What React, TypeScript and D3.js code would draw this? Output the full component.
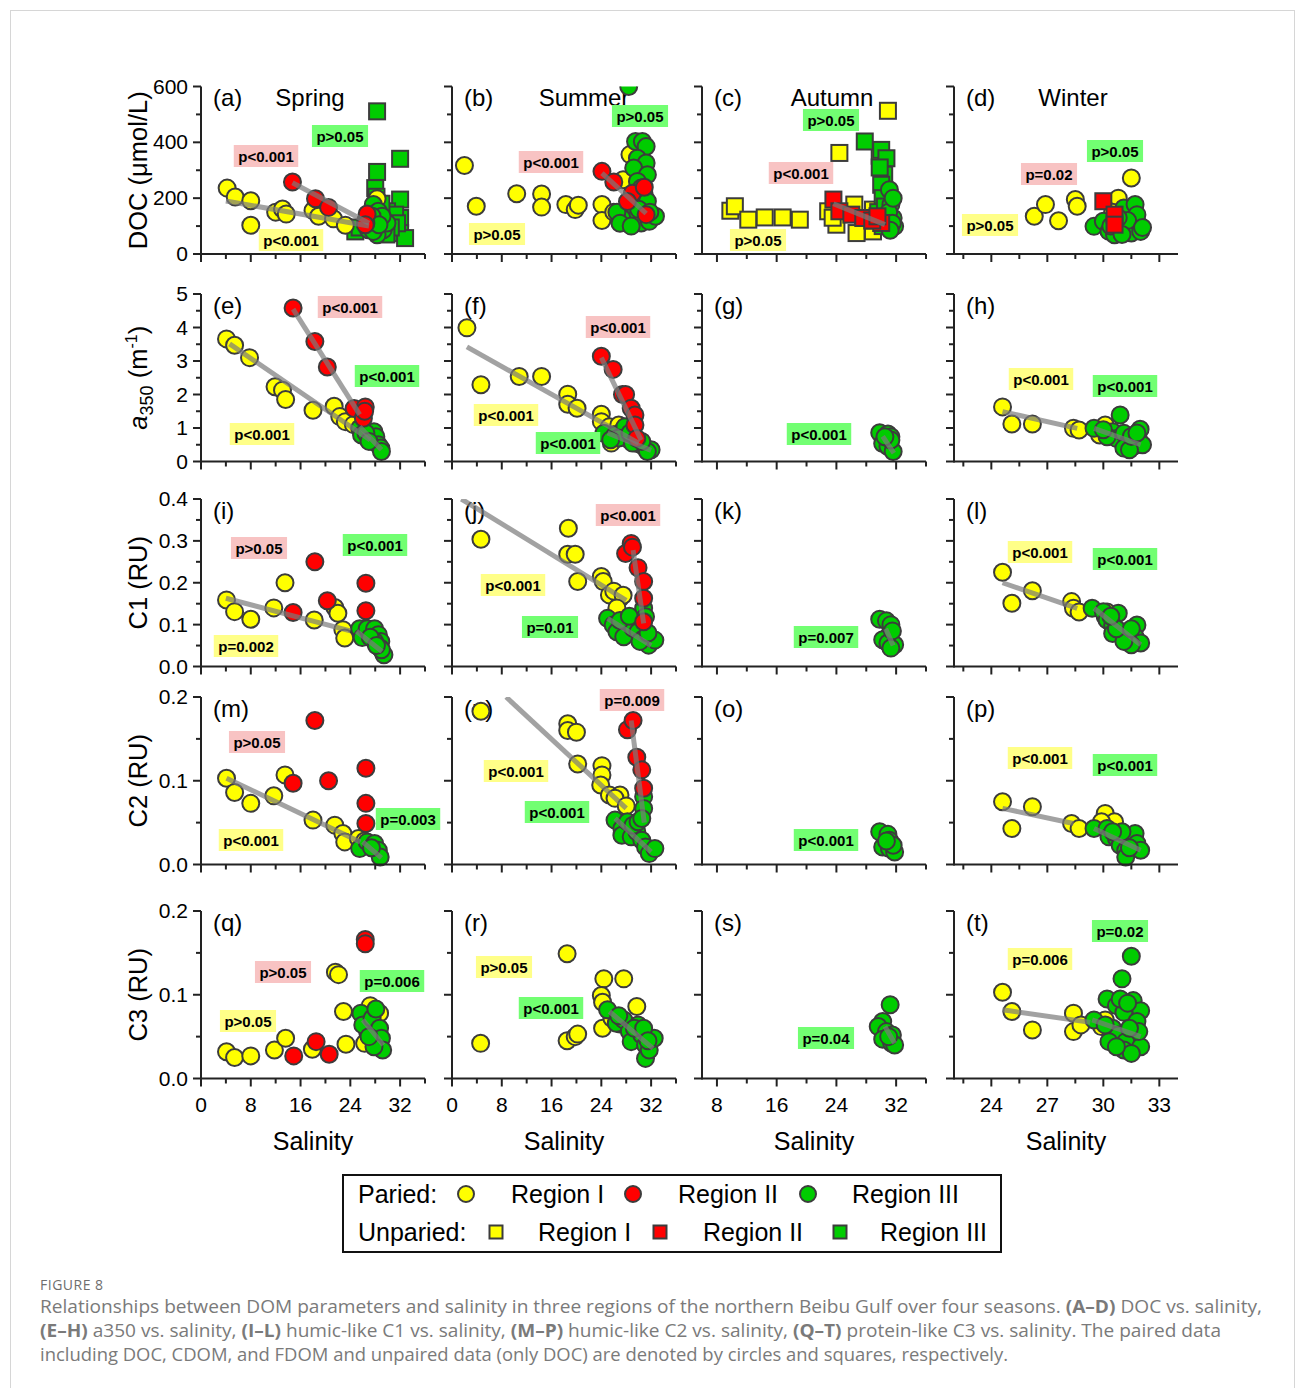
import * as d3 from 'd3';

type Pt = [number, number];

// ---- data, [salinity, value] pairs ----
// suffix: I / II / III = region, u = unpaired (squares), fit = regression end points

// (a) spring DOC
const a_I: Pt[] = [[4.2,236],[5.5,204],[8.0,191],[8.0,103],[12.0,150],[13.1,161],[13.7,143],[18.0,156],[18.9,135],[21.3,126],[23.2,103],[28.3,198],[27.5,150],[26.5,120]];
const a_II: Pt[] = [[14.7,258],[18.4,198],[20.5,167],[26.7,143],[26.4,105]];
const a_III: Pt[] = [[27.7,177],[28.5,153],[27.2,117],[28.0,99],[28.8,117],[29.3,87],[28.3,69],[26.9,87],[27.7,81],[29.9,111],[29.1,135],[27.5,135],[28.6,105],[26.5,110]];
const a_uIII: Pt[] = [[28.3,511],[28.3,294],[32.0,341],[28.0,236],[28.2,205],[32.0,195],[32.0,129],[32.0,75],[32.8,57],[29.9,153],[31.2,141],[29.0,180],[31.5,110],[30.5,95],[29.8,70],[24.8,81],[25.5,95]];
const a_fitI: Pt[] = [[4,190],[27,100]];
const a_fitII: Pt[] = [[14.7,255],[27,110]];

// (b) summer DOC
const b_I: Pt[] = [[2.0,317],[3.9,171],[10.4,216],[14.4,215],[14.4,168],[18.3,177],[19.8,159],[20.3,175],[24.1,177],[24.1,120],[27.5,266],[28.6,356],[26.0,150]];
const b_II: Pt[] = [[24.1,296],[26.0,258],[29.0,218],[28.2,188],[30.9,239],[31.2,141]];
const b_III: Pt[] = [[29.5,403],[30.6,403],[31.2,385],[29.8,343],[31.2,326],[29.2,308],[31.4,284],[29.8,260],[30.4,236],[30.9,212],[31.4,189],[28.2,141],[29.2,123],[27.3,129],[30.4,111],[31.7,117],[32.7,135],[26.5,150],[27.0,110],[28.8,100],[30.0,160],[31.8,150],[28.4,600]];
const b_fitII: Pt[] = [[24.1,290],[31.2,145]];

// (c) autumn DOC
const c_uI: Pt[] = [[9.8,155],[10.4,171],[12.2,123],[14.4,131],[16.8,131],[19.1,123],[24.4,362],[30.9,513],[29.8,352],[22.9,153],[24.0,105],[26.4,177],[28.9,159],[27.6,93],[26.7,75],[28.9,81],[23.5,130]];
const c_uII: Pt[] = [[23.6,195],[24.4,153],[26.0,141],[27.6,129],[30.0,111],[28.8,120],[29.5,135]];
const c_uIII: Pt[] = [[27.8,403],[30.0,373],[30.7,343],[30.4,284],[30.0,248],[29.8,310],[30.2,200],[29.6,150],[30.5,170],[29.0,120],[30.2,100]];
const c_III: Pt[] = [[31.1,230],[31.3,177],[31.6,129],[31.8,99],[31.0,150],[31.5,110],[31.2,85],[31.6,200]];
const c_fitII: Pt[] = [[23.6,180],[30.5,105]];

// (d) winter DOC
const d_I: Pt[] = [[26.3,135],[26.9,177],[27.6,119],[28.5,195],[28.6,171],[31.5,272],[30.8,200],[30.1,117],[30.5,150]];
const d_uII: Pt[] = [[30.0,189],[30.6,141],[30.6,105]];
const d_III: Pt[] = [[29.5,99],[30.0,117],[30.3,81],[31.1,165],[31.7,177],[31.9,105],[31.1,81],[31.5,75],[32.0,81],[30.6,69],[30.9,105],[31.8,141],[30.4,100],[31.3,120],[30.8,130],[32.1,95],[31.0,70]];

// (e) spring a350
const e_I: Pt[] = [[4.1,3.66],[5.4,3.47],[7.8,3.1],[11.9,2.23],[13.1,2.13],[13.6,1.85],[18.0,1.53],[21.4,1.65],[22.3,1.34],[23.2,1.19],[24.5,1.1],[26.0,0.95]];
const e_II: Pt[] = [[14.8,4.58],[18.3,3.58],[20.3,2.82],[24.6,1.58],[26.4,1.63],[26.1,1.29],[26.3,1.5]];
const e_III: Pt[] = [[25.5,0.99],[25.8,0.79],[27.2,0.74],[27.8,0.89],[27.8,0.59],[28.1,0.74],[28.5,0.5],[28.9,0.4],[29.0,0.3],[26.5,0.85],[27.0,0.6]];
const e_fitI: Pt[] = [[4.6,3.51],[27.2,0.64]];
const e_fitII: Pt[] = [[14.8,4.55],[25.5,1.4]];
const e_fitIII: Pt[] = [[25.5,1.04],[29,0.35]];

// (f) summer a350
const f_I: Pt[] = [[2.4,3.99],[4.65,2.29],[10.8,2.54],[14.4,2.54],[18.6,2.01],[18.6,1.71],[20.1,1.59],[24.0,1.41],[24.0,1.19],[25.3,1.04],[25.6,0.55],[26.8,1.09],[27.5,0.95],[26.0,0.8]];
const f_II: Pt[] = [[24.0,3.14],[25.9,2.75],[27.4,2.0],[27.9,2.0],[28.8,1.59],[29.4,1.39],[29.4,1.09],[29.7,0.69]];
const f_III: Pt[] = [[24.4,0.84],[26.2,0.79],[27.6,0.74],[28.5,0.64],[29.7,0.54],[30.8,0.45],[32.0,0.35],[27.8,1.04],[26.8,0.7],[29.0,0.55],[31.4,0.3],[28.6,0.85],[30.5,0.6],[25.5,0.65]];
const f_fitI: Pt[] = [[2.4,3.42],[30,0.55]];
const f_fitII: Pt[] = [[24,3.1],[30.4,0.64]];
const f_fitIII: Pt[] = [[25,0.85],[32,0.33]];

// (g) autumn a350
const g_III: Pt[] = [[29.8,0.86],[30.9,0.82],[31.3,0.74],[30.2,0.54],[31.1,0.54],[30.9,0.45],[31.6,0.3],[31.3,0.64],[30.5,0.74]];
const g_fitIII: Pt[] = [[30.2,0.75],[31.7,0.25]];

// (h) winter a350
const h_I: Pt[] = [[24.6,1.63],[25.1,1.12],[26.2,1.12],[28.4,0.99],[28.7,0.94],[30.1,1.09],[29.8,0.79]];
const h_III: Pt[] = [[29.5,0.99],[30.9,1.39],[31.97,0.96],[30.5,0.89],[30.7,0.69],[31.1,0.84],[31.3,0.54],[31.6,0.45],[31.9,0.64],[32.1,0.5],[31.1,0.4],[31.4,0.35],[30.2,0.74],[30.0,0.95],[31.5,0.75],[31.8,0.85]];
const h_fitI: Pt[] = [[24.6,1.49],[28.6,0.99]];
const h_fitIII: Pt[] = [[29.5,0.99],[32,0.5]];

// (i) spring C1
const i_I: Pt[] = [[4.1,0.159],[5.4,0.131],[8.0,0.113],[11.7,0.14],[13.5,0.2],[18.2,0.111],[21.5,0.141],[22.0,0.127],[22.8,0.088],[23.1,0.068]];
const i_II: Pt[] = [[18.3,0.25],[14.8,0.129],[20.3,0.157],[26.5,0.199],[26.5,0.133]];
const i_III: Pt[] = [[25.5,0.09],[25.9,0.069],[26.7,0.09],[27.9,0.09],[28.5,0.076],[28.9,0.06],[28.8,0.044],[29.4,0.028],[27.9,0.06],[27.2,0.07],[29.0,0.04],[28.2,0.05]];
const i_fitI: Pt[] = [[4,0.163],[24,0.085]];
const i_fitIII: Pt[] = [[25,0.084],[29.1,0.036]];

// (j) summer C1
const j_I: Pt[] = [[4.65,0.304],[18.7,0.33],[18.6,0.268],[19.8,0.268],[20.2,0.203],[24.0,0.215],[24.3,0.203],[25.3,0.171],[27.0,0.163],[26.0,0.18],[27.5,0.17],[26.5,0.14]];
const j_II: Pt[] = [[28.8,0.294],[27.9,0.27],[29.9,0.236],[30.8,0.203],[30.8,0.163],[30.8,0.107],[29.0,0.285]];
const j_III: Pt[] = [[25.0,0.115],[25.9,0.099],[26.5,0.083],[27.6,0.071],[28.2,0.107],[29.1,0.091],[29.9,0.083],[30.8,0.067],[31.6,0.051],[32.6,0.063],[30.8,0.139],[31.1,0.119],[27.0,0.11],[30.2,0.06],[28.5,0.12],[31.5,0.08]];
const j_fitI: Pt[] = [[1.5,0.4],[28,0.158]];
const j_fitII: Pt[] = [[29.1,0.278],[30.8,0.103]];
const j_fitIII: Pt[] = [[25,0.115],[32,0.05]];

// (k) autumn C1
const k_III: Pt[] = [[29.8,0.113],[30.7,0.109],[31.3,0.1],[31.1,0.076],[30.2,0.064],[30.9,0.056],[31.8,0.052],[31.3,0.044],[31.5,0.085]];
const k_fitIII: Pt[] = [[30.6,0.09],[31.6,0.05]];

// (l) winter C1
const l_I: Pt[] = [[24.6,0.225],[25.1,0.151],[26.2,0.181],[28.3,0.155],[28.4,0.139],[28.7,0.13],[30.1,0.119],[30.2,0.13]];
const l_III: Pt[] = [[29.4,0.139],[30.0,0.131],[30.8,0.127],[30.2,0.111],[30.5,0.099],[30.5,0.079],[31.0,0.083],[31.3,0.067],[31.8,0.099],[31.7,0.071],[32.0,0.056],[31.5,0.052],[31.1,0.06],[30.7,0.09],[31.5,0.09],[30.4,0.12]];
const l_fitI: Pt[] = [[24.6,0.2],[28.6,0.139]];
const l_fitIII: Pt[] = [[29.5,0.139],[32,0.052]];

// (m) spring C2
const m_I: Pt[] = [[4.1,0.103],[5.4,0.086],[8.0,0.073],[11.7,0.082],[13.5,0.107],[18.0,0.053],[21.5,0.047],[22.8,0.037],[23.1,0.027],[25.3,0.031],[26.3,0.028]];
const m_II: Pt[] = [[18.3,0.172],[14.8,0.097],[20.5,0.1],[26.5,0.115],[26.5,0.073],[26.5,0.049]];
const m_III: Pt[] = [[25.5,0.019],[26.7,0.027],[27.9,0.025],[28.5,0.017],[28.8,0.009],[27.4,0.02]];
const m_fitI: Pt[] = [[4.1,0.103],[25.6,0.027]];
const m_fitIII: Pt[] = [[26,0.027],[29,0.008]];

// (n) summer C2
const n_I: Pt[] = [[4.65,0.183],[18.6,0.168],[18.6,0.16],[20.0,0.158],[20.2,0.12],[24.1,0.118],[24.1,0.107],[23.9,0.095],[25.3,0.083],[27.0,0.083],[26.2,0.079],[28.0,0.07]];
const n_II: Pt[] = [[28.2,0.161],[29.1,0.172],[29.7,0.128],[30.5,0.113],[30.8,0.091]];
const n_III: Pt[] = [[30.8,0.081],[30.8,0.067],[26.2,0.053],[27.3,0.043],[27.3,0.035],[28.8,0.033],[29.7,0.039],[30.5,0.029],[31.1,0.021],[31.7,0.013],[32.6,0.019],[28.2,0.051],[29.1,0.047],[29.9,0.051],[30.5,0.055]];
const n_fitI: Pt[] = [[8.7,0.2],[28,0.067]];
const n_fitII: Pt[] = [[28.8,0.172],[30.9,0.05]];
const n_fitIII: Pt[] = [[26.2,0.055],[32,0.015]];

// (o) autumn C2
const o_III: Pt[] = [[29.8,0.039],[30.9,0.036],[31.1,0.029],[30.2,0.021],[31.1,0.019],[31.8,0.015],[31.6,0.023],[30.7,0.028]];

// (p) winter C2
const p_I: Pt[] = [[24.6,0.075],[25.1,0.043],[26.2,0.069],[28.3,0.049],[28.7,0.043],[30.1,0.061],[30.6,0.051],[29.9,0.051]];
const p_III: Pt[] = [[29.5,0.043],[30.2,0.043],[30.3,0.033],[30.7,0.031],[30.9,0.023],[31.2,0.017],[31.2,0.009],[31.5,0.029],[31.7,0.037],[31.8,0.025],[32.0,0.017],[31.0,0.039],[30.5,0.039],[31.4,0.02]];
const p_fitI: Pt[] = [[24.6,0.067],[28.4,0.049]];
const p_fitIII: Pt[] = [[29.5,0.043],[32,0.017]];

// (q) spring C3
const q_I: Pt[] = [[4.1,0.032],[5.4,0.025],[8.0,0.027],[11.8,0.034],[13.6,0.048],[17.9,0.035],[21.6,0.127],[22.1,0.124],[22.9,0.08],[23.3,0.041],[26.3,0.042],[27.2,0.087],[28.7,0.078],[26.8,0.055]];
const q_II: Pt[] = [[26.4,0.166],[26.4,0.161],[14.9,0.027],[18.5,0.044],[20.6,0.029]];
const q_III: Pt[] = [[25.7,0.078],[26.0,0.064],[27.5,0.072],[28.1,0.083],[28.7,0.06],[28.1,0.046],[29.0,0.048],[29.2,0.034],[27.8,0.038],[27.0,0.05]];
const q_fitIII: Pt[] = [[26,0.07],[29.3,0.04]];

// (r) summer C3
const r_I: Pt[] = [[4.6,0.042],[18.5,0.149],[18.5,0.045],[19.8,0.05],[20.2,0.053],[24.4,0.119],[27.6,0.119],[24.0,0.099],[24.2,0.091],[24.2,0.06],[29.7,0.086],[25.7,0.072],[27.0,0.065]];
const r_III: Pt[] = [[25.0,0.082],[26.4,0.066],[27.6,0.07],[28.5,0.056],[28.8,0.044],[29.9,0.064],[30.5,0.052],[31.1,0.04],[31.1,0.024],[31.7,0.034],[32.5,0.048],[29.3,0.06],[26.8,0.075],[30.8,0.06],[31.5,0.045]];
const r_fitIII: Pt[] = [[25.3,0.08],[32.3,0.036]];

// (s) autumn C3
const s_III: Pt[] = [[31.2,0.088],[30.2,0.068],[29.6,0.062],[30.7,0.056],[31.5,0.052],[30.2,0.047],[31.4,0.042],[31.8,0.04],[31.0,0.05]];
const s_fitIII: Pt[] = [[30.5,0.062],[31.8,0.042]];

// (t) winter C3
const t_I: Pt[] = [[24.6,0.103],[25.1,0.08],[26.2,0.058],[28.4,0.078],[28.4,0.056],[28.8,0.064],[29.9,0.062],[30.1,0.07]];
const t_III: Pt[] = [[31.5,0.146],[31.0,0.119],[30.2,0.095],[29.5,0.07],[30.7,0.087],[31.6,0.093],[32.0,0.081],[31.1,0.079],[31.8,0.068],[30.5,0.06],[30.8,0.052],[30.3,0.044],[31.2,0.044],[32.0,0.038],[31.1,0.034],[31.5,0.03],[30.7,0.038],[31.9,0.056],[30.1,0.064],[31.4,0.06],[30.9,0.095],[31.3,0.09]];
const t_fitI: Pt[] = [[24.6,0.082],[29.3,0.067]];
const t_fitIII: Pt[] = [[29.4,0.07],[32,0.05]];

// axes
const seasons = ['Spring', 'Summer', 'Autumn', 'Winter'];
const xDomains: Pt[] = [[0, 36], [0, 36], [6, 36], [22, 34]];
const xMajor = [[0, 8, 16, 24, 32], [0, 8, 16, 24, 32], [8, 16, 24, 32], [24, 27, 30, 33]];
const xMinor = [[4, 12, 20, 28, 36], [4, 12, 20, 28, 36], [12, 20, 28, 36], [22.5, 25.5, 28.5, 31.5]];
const yDomains: Pt[] = [[0, 600], [0, 5], [0, 0.4], [0, 0.2], [0, 0.2]];
const yMajor = [[0, 200, 400, 600], [0, 1, 2, 3, 4, 5], [0, 0.1, 0.2, 0.3, 0.4], [0, 0.1, 0.2], [0, 0.1, 0.2]];
const yMinor = [[100, 300, 500], [0.5, 1.5, 2.5, 3.5, 4.5], [0.05, 0.15, 0.25, 0.35], [0.05, 0.15], [0.05, 0.15]];
const yFmt = [(v: number) => String(v), (v: number) => String(v), (v: number) => v.toFixed(1), (v: number) => v.toFixed(1), (v: number) => v.toFixed(1)];

type Series = { r: string; sq?: boolean; d: Pt[] };
type Fit = { r: string; d: Pt[] };
type Note = [string, string, number, number];
type PanelSpec = { id: string; row: number; col: number; series: Series[]; fits: Fit[]; notes: Note[] };

const panels: PanelSpec[] = [
  { id: 'a', row: 0, col: 0,
    series: [{ r: 'I', d: a_I }, { r: 'II', d: a_II }, { r: 'III', d: a_III }, { r: 'III', sq: true, d: a_uIII }],
    fits: [{ r: 'I', d: a_fitI }, { r: 'II', d: a_fitII }],
    notes: [['p<0.001', 'II', 266, 156], ['p>0.05', 'III', 340, 136], ['p<0.001', 'I', 291, 240]] },
  { id: 'b', row: 0, col: 1,
    series: [{ r: 'I', d: b_I }, { r: 'II', d: b_II }, { r: 'III', d: b_III }],
    fits: [{ r: 'II', d: b_fitII }],
    notes: [['p<0.001', 'II', 551, 162], ['p>0.05', 'III', 640, 116], ['p>0.05', 'I', 497, 234]] },
  { id: 'c', row: 0, col: 2,
    series: [{ r: 'I', sq: true, d: c_uI }, { r: 'II', sq: true, d: c_uII }, { r: 'III', sq: true, d: c_uIII }, { r: 'III', d: c_III }],
    fits: [{ r: 'II', d: c_fitII }],
    notes: [['p<0.001', 'II', 801, 173], ['p>0.05', 'III', 831, 120], ['p>0.05', 'I', 758, 240]] },
  { id: 'd', row: 0, col: 3,
    series: [{ r: 'I', d: d_I }, { r: 'II', sq: true, d: d_uII }, { r: 'III', d: d_III }],
    fits: [],
    notes: [['p=0.02', 'II', 1049, 174], ['p>0.05', 'III', 1115, 151], ['p>0.05', 'I', 990, 225]] },
  { id: 'e', row: 1, col: 0,
    series: [{ r: 'I', d: e_I }, { r: 'II', d: e_II }, { r: 'III', d: e_III }],
    fits: [{ r: 'I', d: e_fitI }, { r: 'II', d: e_fitII }, { r: 'III', d: e_fitIII }],
    notes: [['p<0.001', 'II', 350, 307], ['p<0.001', 'III', 387, 376], ['p<0.001', 'I', 262, 434]] },
  { id: 'f', row: 1, col: 1,
    series: [{ r: 'I', d: f_I }, { r: 'II', d: f_II }, { r: 'III', d: f_III }],
    fits: [{ r: 'I', d: f_fitI }, { r: 'II', d: f_fitII }, { r: 'III', d: f_fitIII }],
    notes: [['p<0.001', 'II', 618, 327], ['p<0.001', 'I', 506, 415], ['p<0.001', 'III', 568, 443]] },
  { id: 'g', row: 1, col: 2,
    series: [{ r: 'III', d: g_III }],
    fits: [{ r: 'III', d: g_fitIII }],
    notes: [['p<0.001', 'III', 819, 434]] },
  { id: 'h', row: 1, col: 3,
    series: [{ r: 'I', d: h_I }, { r: 'III', d: h_III }],
    fits: [{ r: 'I', d: h_fitI }, { r: 'III', d: h_fitIII }],
    notes: [['p<0.001', 'I', 1041, 379], ['p<0.001', 'III', 1125, 386]] },
  { id: 'i', row: 2, col: 0,
    series: [{ r: 'I', d: i_I }, { r: 'II', d: i_II }, { r: 'III', d: i_III }],
    fits: [{ r: 'I', d: i_fitI }, { r: 'III', d: i_fitIII }],
    notes: [['p>0.05', 'II', 259, 548], ['p<0.001', 'III', 375, 545], ['p=0.002', 'I', 246, 646]] },
  { id: 'j', row: 2, col: 1,
    series: [{ r: 'I', d: j_I }, { r: 'II', d: j_II }, { r: 'III', d: j_III }],
    fits: [{ r: 'I', d: j_fitI }, { r: 'II', d: j_fitII }, { r: 'III', d: j_fitIII }],
    notes: [['p<0.001', 'II', 628, 515], ['p<0.001', 'I', 513, 585], ['p=0.01', 'III', 550, 627]] },
  { id: 'k', row: 2, col: 2,
    series: [{ r: 'III', d: k_III }],
    fits: [{ r: 'III', d: k_fitIII }],
    notes: [['p=0.007', 'III', 826, 637]] },
  { id: 'l', row: 2, col: 3,
    series: [{ r: 'I', d: l_I }, { r: 'III', d: l_III }],
    fits: [{ r: 'I', d: l_fitI }, { r: 'III', d: l_fitIII }],
    notes: [['p<0.001', 'I', 1040, 552], ['p<0.001', 'III', 1125, 559]] },
  { id: 'm', row: 3, col: 0,
    series: [{ r: 'I', d: m_I }, { r: 'II', d: m_II }, { r: 'III', d: m_III }],
    fits: [{ r: 'I', d: m_fitI }, { r: 'III', d: m_fitIII }],
    notes: [['p>0.05', 'II', 257, 742], ['p<0.001', 'I', 251, 840], ['p=0.003', 'III', 408, 819]] },
  { id: 'n', row: 3, col: 1,
    series: [{ r: 'I', d: n_I }, { r: 'II', d: n_II }, { r: 'III', d: n_III }],
    fits: [{ r: 'I', d: n_fitI }, { r: 'II', d: n_fitII }, { r: 'III', d: n_fitIII }],
    notes: [['p=0.009', 'II', 632, 700], ['p<0.001', 'I', 516, 771], ['p<0.001', 'III', 557, 812]] },
  { id: 'o', row: 3, col: 2,
    series: [{ r: 'III', d: o_III }],
    fits: [],
    notes: [['p<0.001', 'III', 826, 840]] },
  { id: 'p', row: 3, col: 3,
    series: [{ r: 'I', d: p_I }, { r: 'III', d: p_III }],
    fits: [{ r: 'I', d: p_fitI }, { r: 'III', d: p_fitIII }],
    notes: [['p<0.001', 'I', 1040, 758], ['p<0.001', 'III', 1125, 765]] },
  { id: 'q', row: 4, col: 0,
    series: [{ r: 'I', d: q_I }, { r: 'II', d: q_II }, { r: 'III', d: q_III }],
    fits: [{ r: 'III', d: q_fitIII }],
    notes: [['p>0.05', 'II', 283, 972], ['p=0.006', 'III', 392, 981], ['p>0.05', 'I', 248, 1021]] },
  { id: 'r', row: 4, col: 1,
    series: [{ r: 'I', d: r_I }, { r: 'III', d: r_III }],
    fits: [{ r: 'III', d: r_fitIII }],
    notes: [['p>0.05', 'I', 504, 967], ['p<0.001', 'III', 551, 1008]] },
  { id: 's', row: 4, col: 2,
    series: [{ r: 'III', d: s_III }],
    fits: [{ r: 'III', d: s_fitIII }],
    notes: [['p=0.04', 'III', 826, 1038]] },
  { id: 't', row: 4, col: 3,
    series: [{ r: 'I', d: t_I }, { r: 'III', d: t_III }],
    fits: [{ r: 'I', d: t_fitI }, { r: 'III', d: t_fitIII }],
    notes: [['p=0.006', 'I', 1040, 959], ['p=0.02', 'III', 1120, 931]] },
];

// layout
const W = 1295, H = 1388;
const colX = [201, 452, 702, 954];
const rowBottom = [254, 461.5, 666.5, 864.5, 1078.5];
const PW = 224, PH = 167.5;
const seasonDx = [109, 132, 130, 119];
const FONT = '"Liberation Sans", Arial, Helvetica, sans-serif';
const AXIS = '#222';
const FILL: Record<string, string> = { I: '#FFFF00', II: '#FF0000', III: '#00CC00' };
const NOTE_BG: Record<string, string> = { I: '#FFFF88', II: '#F8C3C3', III: '#72FF72' };
const R = 8.5, SQ = 16;

// bold Arial advance widths for the p-labels
const CW: Record<string, number> = { p: 0.611, '<': 0.584, '>': 0.584, '=': 0.584, '.': 0.278 };
const textW = (s: string, fs: number) => s.split('').reduce((w, ch) => w + (CW[ch] ?? 0.556), 0) * fs;

const order = (s: Series) => (s.sq ? ({ I: 0, III: 1, II: 5 } as any)[s.r] : ({ I: 2, III: 3, II: 4 } as any)[s.r]);

function Panel({ p }: { p: PanelSpec }) {
  const x0 = colX[p.col];
  const yb = rowBottom[p.row];
  const top = yb - PH;
  const x = d3.scaleLinear().domain(xDomains[p.col]).range([x0, x0 + PW]);
  const y = d3.scaleLinear().domain(yDomains[p.row]).range([yb, top]);
  const line = d3.line<Pt>().x(d => x(d[0])).y(d => y(d[1]));
  const ser = [...p.series].sort((a, b) => order(a) - order(b));
  const bottomRow = p.row === 4;
  return (
    <g>
      <clipPath id={'clip-' + p.id}>
        <rect x={x0 - 20} y={top} width={PW + 40} height={PH + 30} />
      </clipPath>
      <text x={x0 + 12} y={top + 19.5} fontSize={24} fontFamily={FONT}>({p.id})</text>
      {p.row === 0 && (
        <text x={x0 + seasonDx[p.col]} y={top + 19.5} fontSize={24} fontFamily={FONT} textAnchor="middle">{seasons[p.col]}</text>
      )}
      <g clipPath={`url(#clip-${p.id})`}>
        {ser.map((s, si) =>
          s.d.map((pt, k) =>
            s.sq ? (
              <rect key={si + '-' + k} x={x(pt[0]) - SQ / 2} y={y(pt[1]) - SQ / 2} width={SQ} height={SQ}
                fill={FILL[s.r]} stroke="#3c3c3c" strokeWidth={2} />
            ) : (
              <circle key={si + '-' + k} cx={x(pt[0])} cy={y(pt[1])} r={R} fill={FILL[s.r]} stroke="#3c3c3c" strokeWidth={2} />
            )
          )
        )}
        {p.fits.map((f, k) => (
          <path key={'f' + k} d={line(f.d) || ''} fill="none" stroke="#7a7a7a" strokeWidth={5} opacity={0.7} />
        ))}
      </g>
      {/* axes */}
      <line x1={x0} x2={x0 + PW} y1={yb} y2={yb} stroke={AXIS} strokeWidth={2} />
      <line x1={x0} x2={x0} y1={yb + 1} y2={top} stroke={AXIS} strokeWidth={2} />
      {yMajor[p.row].map(v => (
        <line key={'ym' + v} x1={x0 - 8} x2={x0} y1={y(v)} y2={y(v)} stroke={AXIS} strokeWidth={2} />
      ))}
      {yMinor[p.row].map(v => (
        <line key={'yn' + v} x1={x0 - 5} x2={x0} y1={y(v)} y2={y(v)} stroke={AXIS} strokeWidth={2} />
      ))}
      {xMajor[p.col].map(v => (
        <line key={'xm' + v} x1={x(v)} x2={x(v)} y1={yb} y2={yb + 8} stroke={AXIS} strokeWidth={2} />
      ))}
      {xMinor[p.col].map(v => (
        <line key={'xn' + v} x1={x(v)} x2={x(v)} y1={yb} y2={yb + 5} stroke={AXIS} strokeWidth={2} />
      ))}
      {p.col === 0 &&
        yMajor[p.row].map(v => (
          <text key={'yl' + v} x={x0 - 13} y={y(v) + 7} fontSize={21} fontFamily={FONT} textAnchor="end">{yFmt[p.row](v)}</text>
        ))}
      {bottomRow &&
        xMajor[p.col].map(v => (
          <text key={'xl' + v} x={x(v)} y={yb + 33} fontSize={21} fontFamily={FONT} textAnchor="middle">{v}</text>
        ))}
      {bottomRow && (
        <text x={x0 + PW / 2} y={yb + 71} fontSize={25} fontFamily={FONT} textAnchor="middle">Salinity</text>
      )}
      {/* p-value notes */}
      {p.notes.map(([t, r, cx, cy], k) => {
        const w = textW(t, 15) + 9;
        return (
          <g key={'n' + k}>
            <rect x={cx - w / 2} y={cy - 11} width={w} height={22} fill={NOTE_BG[r]} />
            <text x={cx} y={cy + 5.5} fontSize={15} fontWeight="bold" fontFamily={FONT} textAnchor="middle">{t}</text>
          </g>
        );
      })}
    </g>
  );
}

function YTitle({ row, children }: { row: number; children: any }) {
  const cy = rowBottom[row] - PH / 2;
  return (
    <text transform={`translate(147,${cy}) rotate(-90)`} fontSize={25.5} fontFamily={FONT} textAnchor="middle">{children}</text>
  );
}

const legendRows = [
  { label: 'Paried:', sq: false, items: [['I', 466, 511], ['II', 633, 678], ['III', 808, 852]] },
  { label: 'Unparied:', sq: true, items: [['I', 496, 538], ['II', 660, 703], ['III', 840, 880]] },
];

const CAP = '"Open Sans", sans-serif';

export default function App() {
  return (
    <svg width={W} height={H} style={{ position: 'absolute', left: 0, top: 0, background: '#fff' }}>
      <rect x={10.5} y={10.5} width={1284} height={1400} fill="#fff" stroke="#d6d6d6" strokeWidth={1} />
      {panels.map(p => <Panel key={p.id} p={p} />)}

      <YTitle row={0}>DOC (μmol/L)</YTitle>
      <YTitle row={1}>
        <tspan fontStyle="italic">a</tspan>
        <tspan fontSize={18} dy={6}>350</tspan>
        <tspan dy={-6}> (m</tspan>
        <tspan fontSize={16} dy={-10}>-1</tspan>
        <tspan dy={10}>)</tspan>
      </YTitle>
      <YTitle row={2}>C1 (RU)</YTitle>
      <YTitle row={3}>C2 (RU)</YTitle>
      <YTitle row={4}>C3 (RU)</YTitle>

      {/* legend */}
      <rect x={343} y={1175} width={658} height={77} fill="#fff" stroke="#111" strokeWidth={2} />
      {legendRows.map((lr, i) => {
        const cy = 1194 + i * 38;
        return (
          <g key={lr.label}>
            <text x={358} y={cy + 8.5} fontSize={25} fontFamily={FONT}>{lr.label}</text>
            {lr.items.map(([r, mx, tx]) => (
              <g key={r as string}>
                {lr.sq ? (
                  <rect x={(mx as number) - 6.5} y={cy - 6.5} width={13} height={13} fill={FILL[r as string]} stroke="#3c3c3c" strokeWidth={2} />
                ) : (
                  <circle cx={mx as number} cy={cy} r={8} fill={FILL[r as string]} stroke="#3c3c3c" strokeWidth={2} />
                )}
                <text x={tx as number} y={cy + 8.5} fontSize={25} fontFamily={FONT}>Region {r}</text>
              </g>
            ))}
          </g>
        );
      })}

      {/* caption */}
      <text x={40} y={1290} fontSize={14} fill="#6e6e6e" fontFamily={CAP} letterSpacing={0.5}>FIGURE 8</text>
      <g fontSize={18} fill="#7a7a7a" fontFamily={CAP}>
        <text x={40} y={1313} textLength={1222} lengthAdjust="spacingAndGlyphs">
          Relationships between DOM parameters and salinity in three regions of the northern Beibu Gulf over four seasons.{' '}
          <tspan fontWeight="bold">(A–D)</tspan> DOC vs. salinity,
        </text>
        <text x={40} y={1337} textLength={1181} lengthAdjust="spacingAndGlyphs">
          <tspan fontWeight="bold">(E–H)</tspan> a350 vs. salinity, <tspan fontWeight="bold">(I–L)</tspan> humic-like C1 vs. salinity,{' '}
          <tspan fontWeight="bold">(M–P)</tspan> humic-like C2 vs. salinity, <tspan fontWeight="bold">(Q–T)</tspan> protein-like C3 vs. salinity. The paired data
        </text>
        <text x={40} y={1361} textLength={968} lengthAdjust="spacingAndGlyphs">
          including DOC, CDOM, and FDOM and unpaired data (only DOC) are denoted by circles and squares, respectively.
        </text>
      </g>
    </svg>
  );
}
